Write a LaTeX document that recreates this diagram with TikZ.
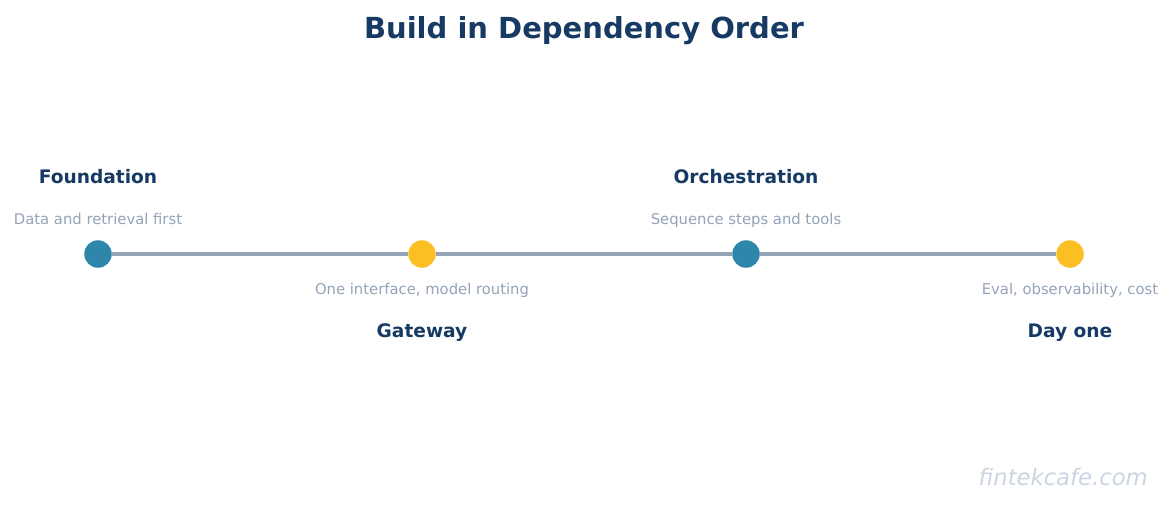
\documentclass[tikz,border=0pt]{standalone}
\usepackage{fontspec}
\setmainfont{DejaVu Sans}
\definecolor{navy}{HTML}{163A63}
\definecolor{tblue}{HTML}{2E86AB}
\definecolor{tyellow}{HTML}{FBBF24}
\definecolor{tgray}{HTML}{94A3B8}
\definecolor{wmark}{HTML}{CBD5E1}
\begin{document}
\begin{tikzpicture}[x=1pt,y=-1pt,
  dot/.style={circle,minimum size=27.5pt,inner sep=0pt,draw=none},
  stagename/.style={font=\fontsize{18.6}{20}\selectfont\bfseries,text=navy,anchor=base,inner sep=0pt},
  stagesub/.style={font=\fontsize{14.8}{16}\selectfont,text=tgray,anchor=base,inner sep=0pt},
  track/.style={draw=tgray,line width=4.6pt}]
\path[use as bounding box,fill=white] (0,0) rectangle (1172,504);
\node[font=\fontsize{29}{32}\selectfont\bfseries,text=navy,anchor=base,inner sep=0pt] (title) at (584,38) {Build in Dependency Order};
\node[dot,fill=tblue] (c1) at (98,254) {};
\node[dot,fill=tyellow] (c2) at (422,254) {};
\node[dot,fill=tblue] (c3) at (746,254) {};
\node[dot,fill=tyellow] (c4) at (1070,254) {};
\draw[track] (c1) -- (c2);
\draw[track] (c2) -- (c3);
\draw[track] (c3) -- (c4);
\node[stagename] (n1) at (98,183) {Foundation};
\node[stagesub] (s1) at (98,224) {Data and retrieval first};
\node[stagename] (n3) at (746,183) {Orchestration};
\node[stagesub] (s3) at (746,224) {Sequence steps and tools};
\node[stagesub] (s2) at (422,294) {One interface, model routing};
\node[stagename] (n2) at (422,337) {Gateway};
\node[stagesub] (s4) at (1070,294) {Eval, observability, cost};
\node[stagename] (n4) at (1070,337) {Day one};
\node[font=\fontsize{22.7}{25}\selectfont\itshape,text=wmark,anchor=base east,inner sep=0pt] (wm) at (1148,485) {fintekcafe.com};
\end{tikzpicture}
\end{document}
